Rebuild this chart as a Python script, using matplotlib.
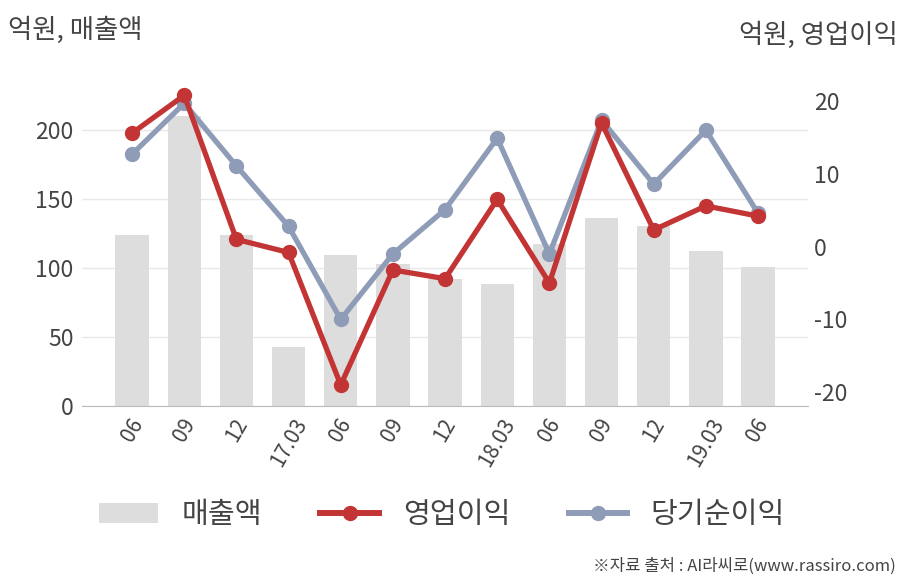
import matplotlib.pyplot as plt
from matplotlib.patches import Patch
from matplotlib.lines import Line2D

plt.rcParams['font.family'] = ['Noto Sans CJK KR', 'DejaVu Sans']
plt.rcParams['axes.unicode_minus'] = False

labels = ['06', '09', '12', '17.03', '06', '09', '12', '18.03', '06', '09', '12', '19.03', '06']
sales = [124, 210, 124, 43, 109, 103, 92, 88, 117, 136, 130, 112, 101]
op_profit = [15.6, 20.8, 1.0, -0.8, -19.0, -3.2, -4.4, 6.5, -5.0, 17.0, 2.3, 5.6, 4.2]
net_profit = [12.7, 19.7, 11.1, 2.8, -10.0, -1.0, 5.1, 14.9, -1.0, 17.4, 8.6, 16.0, 4.6]

red = '#c33535'
blue = '#8f9cb7'
bar_c = '#dddddd'
txt = '#444444'

fig = plt.figure(figsize=(9.08, 5.8), dpi=100)
ax = fig.add_axes([0.0903, 0.30, 0.7997, 0.562])
x = range(len(labels))

ax.bar(x, sales, width=0.64, color=bar_c, zorder=2)
ax.set_xlim(-0.96, 12.96)
ax.set_ylim(0, 236)
ax.set_yticks([0, 50, 100, 150, 200])
ax.grid(axis='y', color='#e8e8e8', linewidth=1, zorder=0)
ax.set_axisbelow(True)
for s in ['top', 'right', 'left']:
    ax.spines[s].set_visible(False)
ax.spines['bottom'].set_color('#bbbbbb')
ax.tick_params(axis='y', length=0, labelsize=16.5, labelcolor=txt, pad=6)
ax.tick_params(axis='x', length=0, labelsize=15, labelcolor=txt, pad=6)
ax.set_xticks(list(x))
ax.set_xticklabels(labels, rotation=60, ha='center', va='top')

ax2 = ax.twinx()
ax2.set_ylim(-21.9, 22.9)
ax2.set_yticks([-20, -10, 0, 10, 20])
ax2.plot(x, net_profit, color=blue, lw=3.8, marker='o', ms=10, zorder=3)
ax2.plot(x, op_profit, color=red, lw=3.8, marker='o', ms=10, zorder=4)
for s in ['top', 'right', 'left', 'bottom']:
    ax2.spines[s].set_visible(False)
ax2.tick_params(axis='y', length=0, labelsize=16.5, labelcolor=txt, pad=4)

fig.text(0.009, 0.948, '억원, 매출액', fontsize=19, color=txt, ha='left', va='center')
fig.text(0.989, 0.94, '억원, 영업이익', fontsize=19, color=txt, ha='right', va='center')
fig.text(0.986, 0.024, '※자료 출처 : AI라씨로(www.rassiro.com)', fontsize=12, color=txt,
         ha='right', va='center')

handles = [Patch(facecolor=bar_c, edgecolor='none'),
           Line2D([], [], color=red, lw=4.3, marker='o', ms=10),
           Line2D([], [], color=blue, lw=4.3, marker='o', ms=10)]
fig.legend(handles, ['매출액', '영업이익', '당기순이익'], loc='center', bbox_to_anchor=(0.487, 0.112),
           ncol=3, frameon=False, fontsize=21, labelcolor=txt, handlelength=2.0,
           handleheight=0.65, columnspacing=2.0, handletextpad=0.82)

fig.savefig('out.png', dpi=100)
